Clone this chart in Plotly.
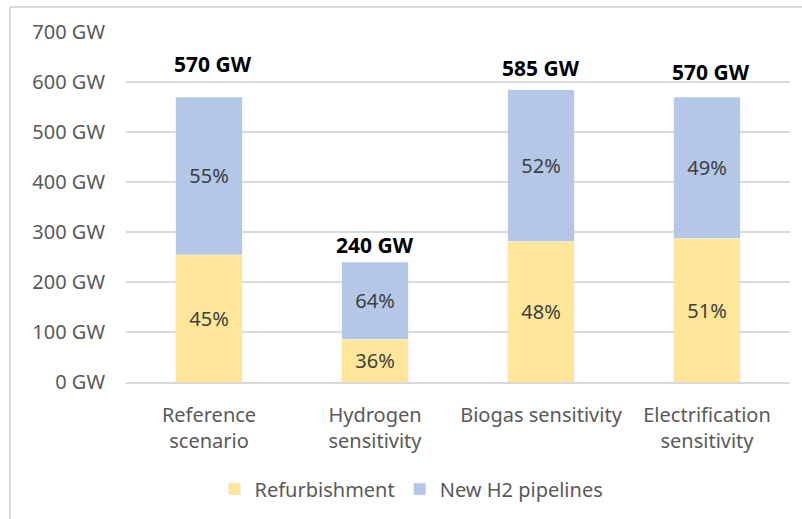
import plotly.graph_objects as go

categories = ["Reference<br>scenario", "Hydrogen<br>sensitivity", "Biogas sensitivity", "Electrification<br>sensitivity"]
refurbishment = [255, 86, 282, 288]
new_h2 = [315, 154, 303, 282]
y_ticks = [0, 100, 200, 300, 400, 500, 600, 700]
y_tick_labels = [f"{v} GW" for v in y_ticks]

totals = [a + b for a, b in zip(refurbishment, new_h2)]
pct_ref = [f"{round(a / t * 100)}%" for a, t in zip(refurbishment, totals)]
pct_new = [f"{round(b / t * 100)}%" for b, t in zip(new_h2, totals)]
label_shift = [33, 17, 22, 25]   # style: vertical offsets of total labels (px)
label_xshift = [4, 0, 0, 4]      # style: horizontal offsets of total labels (px)

FONT = "Noto Sans"
fig = go.Figure()
fig.add_bar(x=categories, y=refurbishment, name="Refurbishment", marker_color="#FFE699",
            text=pct_ref, textposition="inside", insidetextanchor="middle",
            textfont=dict(color="#404040", size=20, family=FONT), textangle=0)
fig.add_bar(x=categories, y=new_h2, name="New H2 pipelines", marker_color="#B4C7E7",
            text=pct_new, textposition="inside", insidetextanchor="middle",
            textfont=dict(color="#404040", size=20, family=FONT), textangle=0)

for c, t, s, xs in zip(categories, totals, label_shift, label_xshift):
    fig.add_annotation(x=c, y=t, text=f"<b>{t} GW</b>", showarrow=False, yshift=s, xshift=xs,
                       font=dict(color="#000000", size=21, family=FONT))

fig.update_layout(
    barmode="stack", bargap=0.6,
    width=802, height=519,
    margin=dict(l=126, r=12, t=32, b=136),
    paper_bgcolor="white", plot_bgcolor="white",
    font=dict(family=FONT, color="#595959", size=20),
    showlegend=True,
    legend=dict(orientation="h", x=0.43, xanchor="center", y=-0.302, yanchor="middle",
                font=dict(size=20, color="#595959", family=FONT), traceorder="normal"),
)
fig.update_yaxes(range=[0, 700], tickvals=y_ticks, ticktext=y_tick_labels,
                 showgrid=True, gridcolor="#D9D9D9", gridwidth=1.5, zeroline=False,
                 showline=False, ticks="", ticklabelstandoff=20,
                 tickfont=dict(size=20, color="#595959", family=FONT))
fig.update_xaxes(showline=True, linecolor="#D9D9D9", linewidth=1.5, ticks="",
                 ticklabelstandoff=14, tickfont=dict(size=20, color="#595959", family=FONT))

# chart border
fig.add_shape(type="line", xref="paper", yref="paper", x0=(10 - 126) / 664, x1=(10 - 126) / 664,
              y0=(383 - 7) / 351, y1=(383 - 530) / 351, line=dict(color="#D9D9D9", width=2))
fig.add_shape(type="line", xref="paper", yref="paper", x0=(10 - 126) / 664, x1=(805 - 126) / 664,
              y0=(383 - 7) / 351, y1=(383 - 7) / 351, line=dict(color="#D9D9D9", width=2))

fig.write_html("out.html", config={"displayModeBar": False},
               post_script="document.body.style.margin='0';")
